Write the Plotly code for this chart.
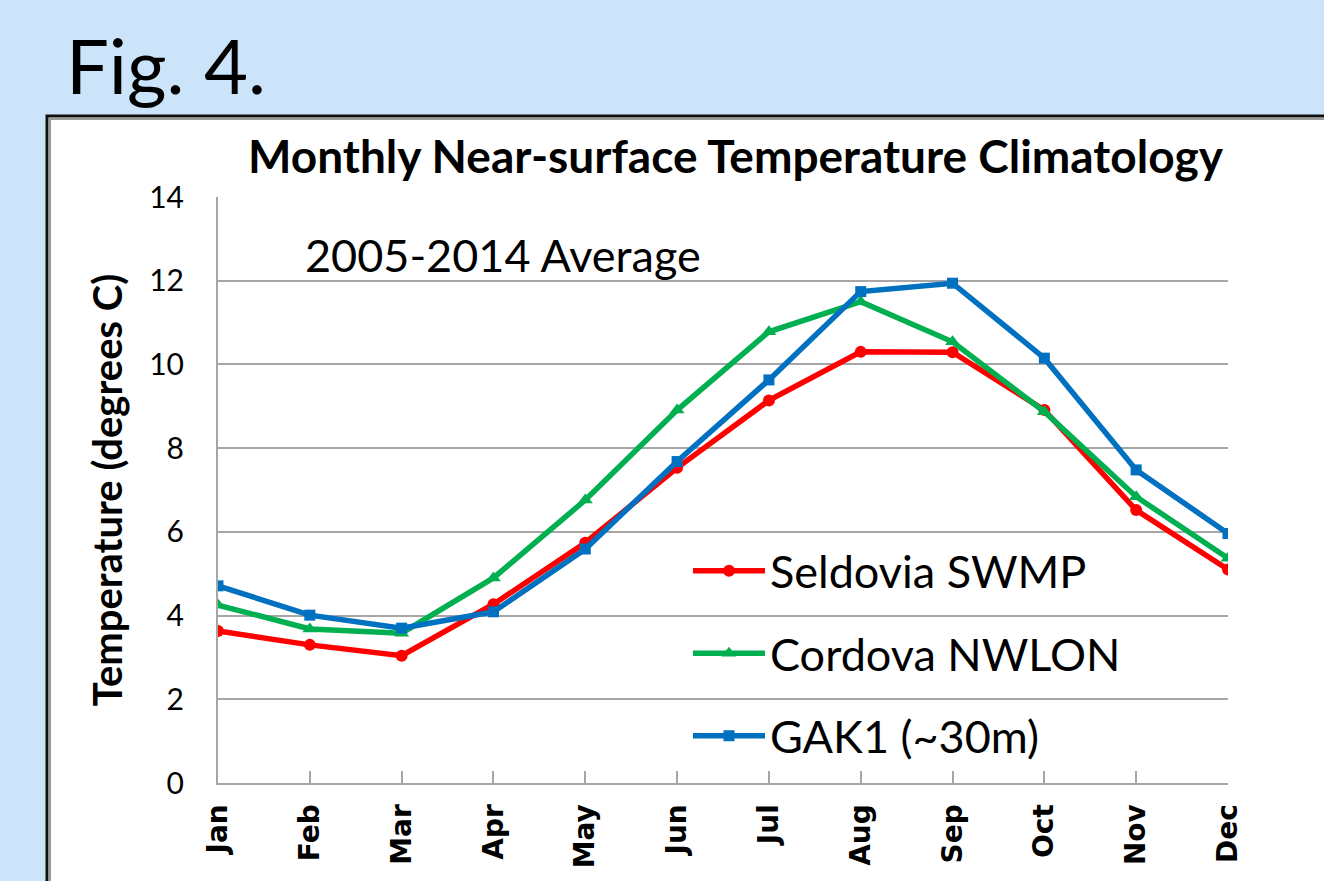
import plotly.graph_objects as go

# ── Data ─────────────────────────────────────────────────────────────────────
MONTHS = ["Jan", "Feb", "Mar", "Apr", "May", "Jun",
          "Jul", "Aug", "Sep", "Oct", "Nov", "Dec"]

SELDOVIA = [3.63, 3.30, 3.04, 4.27, 5.74, 7.53, 9.14, 10.30, 10.29, 8.91, 6.52, 5.10]
CORDOVA = [4.25, 3.68, 3.58, 4.90, 6.76, 8.91, 10.78, 11.50, 10.54, 8.87, 6.84, 5.37]
GAK1 = [4.71, 4.01, 3.70, 4.09, 5.59, 7.68, 9.63, 11.74, 11.94, 10.15, 7.48, 5.96]

Y_TICKS = [0, 2, 4, 6, 8, 10, 12, 14]

SERIES = [
    ("Seldovia SWMP", SELDOVIA, "#FF0000", "circle", 12),
    ("Cordova NWLON", CORDOVA, "#00B050", "triangle-up", 13),
    ("GAK1 (~30m)", GAK1, "#0070C0", "square", 11),
]

FONT = "Lato, 'Open Sans', sans-serif"
BG_BLUE = "#CCE4FA"
GRID = "#A6A6A6"

W, H = 1324, 881
L, R, T, B = 218, 96, 197, 98


def px_x(px):
    """Pixel x in the page -> paper coordinate."""
    return (px - L) / (W - L - R)


def px_y(py):
    """Pixel y in the page -> paper coordinate."""
    return (H - B - py) / (H - T - B)


fig = go.Figure()

for i, (name, vals, colour, symbol, size) in enumerate(SERIES):
    fig.add_trace(go.Scatter(
        x=MONTHS,
        y=vals,
        name=name,
        mode="lines+markers",
        line=dict(color=colour, width=5.5),
        marker=dict(symbol=symbol, size=size, color=colour),
        legendgroup=f"g{i}",
    ))

# ── White chart box with dark frame on the blue slide ────────────────────────
fig.add_shape(type="rect", xref="paper", yref="paper",
              x0=px_x(47), x1=1.3, y0=-0.4, y1=px_y(116),
              fillcolor="white", line=dict(color="#111111", width=3),
              layer="below")
fig.add_shape(type="rect", xref="paper", yref="paper",
              x0=px_x(50), x1=1.3, y0=-0.4, y1=px_y(119),
              fillcolor="rgba(0,0,0,0)", line=dict(color="#9A9A9A", width=2),
              layer="below")

fig.add_annotation(text="Fig. 4.", xref="paper", yref="paper",
                   x=px_x(64), y=px_y(64), xanchor="left", yanchor="middle",
                   showarrow=False, font=dict(family=FONT, size=76, color="black"))
fig.add_annotation(text="<b>Monthly Near-surface Temperature Climatology</b>",
                   xref="paper", yref="paper",
                   x=px_x(736), y=px_y(156), xanchor="center", yanchor="middle",
                   showarrow=False, font=dict(family=FONT, size=46, color="black"))
fig.add_annotation(text="2005-2014 Average", xref="paper", yref="paper",
                   x=px_x(303), y=px_y(255), xanchor="left", yanchor="middle",
                   showarrow=False, font=dict(family=FONT, size=45, color="black"))

fig.update_xaxes(
    type="category",
    range=[0, len(MONTHS) - 1],
    showgrid=False,
    showline=True, linecolor=GRID, linewidth=2,
    ticks="inside", ticklen=12, tickcolor=GRID, tickwidth=2,
    tickangle=-90,
    ticklabelstandoff=8,
    tickfont=dict(family="DejaVu Sans", size=28, color="black", weight="bold"),
)
fig.update_yaxes(
    range=[0, 14],
    tickvals=Y_TICKS,
    showgrid=True, gridcolor=GRID, gridwidth=2,
    showline=True, linecolor=GRID, linewidth=2,
    zeroline=False,
    ticks="",
    ticklabelstandoff=26,
    tickfont=dict(family=FONT, size=30, color="black"),
    title=dict(text="<b>Temperature (degrees C)</b>", standoff=14,
               font=dict(family=FONT, size=40, color="black")),
)

fig.update_layout(
    width=W, height=H,
    margin=dict(l=L, r=R, t=T, b=B, autoexpand=False),
    paper_bgcolor=BG_BLUE,
    plot_bgcolor="white",
    showlegend=True,
    legend=dict(
        x=px_x(688), y=px_y(535), xanchor="left", yanchor="top",
        bgcolor="rgba(0,0,0,0)",
        font=dict(family=FONT, size=45, color="black"),
        tracegroupgap=21,
        itemwidth=72,
    ),
    hovermode=False,
)

# drop the browser's default 8px body margin so the figure fills the window
fig.write_html("out.html", config={"displayModeBar": False},
               post_script="document.body.style.margin='0';")
